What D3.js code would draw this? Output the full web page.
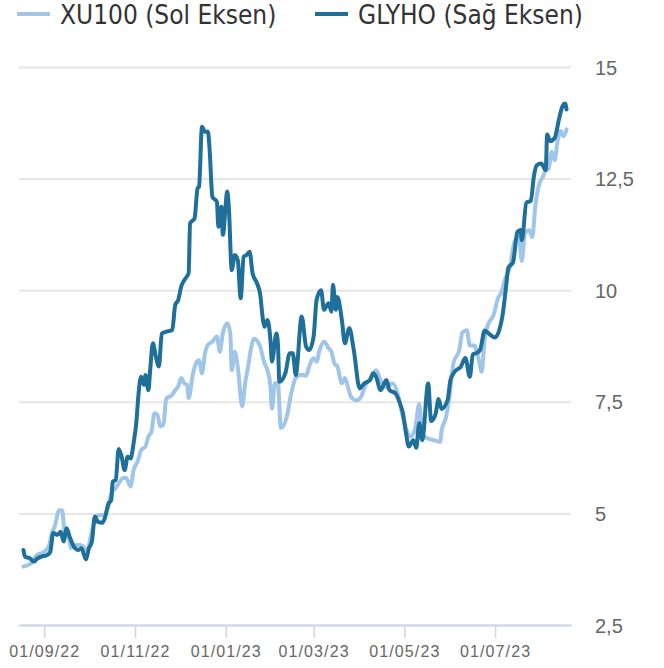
<!DOCTYPE html>
<html>
<head>
<meta charset="utf-8">
<script src="https://cdn.jsdelivr.net/npm/d3@7"></script>
<style>
  body { margin: 0; background: #fff; }
  svg { display: block; font-family: "DejaVu Sans Condensed", "DejaVu Sans", sans-serif; }
</style>
</head>
<body>
<div id="chart"></div>
<script>
const legendLabels = ["XU100 (Sol Eksen)", "GLYHO (Sağ Eksen)"];
const rightTicks = [2.5, 5, 7.5, 10, 12.5, 15];
const dateTicks = ["2022-09-01", "2022-11-01", "2023-01-01", "2023-03-01", "2023-05-01", "2023-07-01"];

// XU100, index points (left axis, hidden)
const xu100 = [
  ["2022-08-18", 2210], ["2022-08-23", 2250], ["2022-08-27", 2360], ["2022-08-31", 2390],
  ["2022-09-04", 2470], ["2022-09-06", 2640], ["2022-09-08", 2730], ["2022-09-11", 2940],
  ["2022-09-13", 2940], ["2022-09-15", 2600], ["2022-09-17", 2640], ["2022-09-19", 2450],
  ["2022-09-22", 2490], ["2022-09-25", 2490], ["2022-09-27", 2470], ["2022-09-30", 2420],
  ["2022-10-02", 2580], ["2022-10-05", 2810], ["2022-10-08", 2880], ["2022-10-11", 2880],
  ["2022-10-14", 2990], ["2022-10-16", 3160], ["2022-10-19", 3230], ["2022-10-21", 3290],
  ["2022-10-24", 3360], ["2022-10-26", 3360], ["2022-10-29", 3250], ["2022-10-31", 3460],
  ["2022-11-03", 3590], ["2022-11-05", 3720], ["2022-11-08", 3770], ["2022-11-10", 3900],
  ["2022-11-12", 3960], ["2022-11-14", 4200], ["2022-11-16", 4180], ["2022-11-18", 4030],
  ["2022-11-20", 4050], ["2022-11-22", 4390], ["2022-11-26", 4440], ["2022-11-28", 4500],
  ["2022-11-30", 4550], ["2022-12-02", 4660], ["2022-12-04", 4590], ["2022-12-06", 4570],
  ["2022-12-07", 4400], ["2022-12-10", 4720], ["2022-12-12", 4850], ["2022-12-14", 4890],
  ["2022-12-16", 4720], ["2022-12-18", 4980], ["2022-12-20", 5090], ["2022-12-23", 5130],
  ["2022-12-26", 5200], ["2022-12-28", 5000], ["2022-12-30", 5240], ["2023-01-02", 5370],
  ["2023-01-04", 5240], ["2023-01-05", 4760], ["2023-01-07", 5000], ["2023-01-09", 4810],
  ["2023-01-12", 4290], ["2023-01-14", 4590], ["2023-01-16", 4810], ["2023-01-18", 5050],
  ["2023-01-20", 5170], ["2023-01-24", 5070], ["2023-01-27", 4850], ["2023-01-29", 4760],
  ["2023-01-31", 4550], ["2023-02-01", 4260], ["2023-02-03", 4590], ["2023-02-05", 4590],
  ["2023-02-07", 4010], ["2023-02-11", 4160], ["2023-02-14", 4460], ["2023-02-17", 4660],
  ["2023-02-21", 4700], ["2023-02-24", 4690], ["2023-02-26", 4810], ["2023-03-01", 4920],
  ["2023-03-03", 4870], ["2023-03-05", 5020], ["2023-03-08", 5130], ["2023-03-11", 5050],
  ["2023-03-13", 5000], ["2023-03-15", 4850], ["2023-03-17", 4810], ["2023-03-20", 4590],
  ["2023-03-22", 4660], ["2023-03-24", 4550], ["2023-03-26", 4420], ["2023-03-30", 4370],
  ["2023-04-02", 4420], ["2023-04-05", 4570], ["2023-04-09", 4670], ["2023-04-12", 4760],
  ["2023-04-15", 4630], ["2023-04-19", 4540], ["2023-04-23", 4590], ["2023-04-27", 4420],
  ["2023-04-29", 4240], ["2023-05-02", 4010], ["2023-05-05", 3900], ["2023-05-08", 3980],
  ["2023-05-11", 4320], ["2023-05-13", 3920], ["2023-05-16", 3880], ["2023-05-21", 3850],
  ["2023-05-25", 3830], ["2023-05-26", 3970], ["2023-05-29", 4150], ["2023-05-31", 4370],
  ["2023-06-03", 4850], ["2023-06-07", 5030], ["2023-06-09", 5250], ["2023-06-12", 5280],
  ["2023-06-14", 5080], ["2023-06-17", 5080], ["2023-06-20", 4900], ["2023-06-22", 4740],
  ["2023-06-24", 5170], ["2023-06-26", 5340], ["2023-06-30", 5480], ["2023-07-03", 5700],
  ["2023-07-05", 5760], ["2023-07-08", 5960], ["2023-07-11", 6100], ["2023-07-14", 6430],
  ["2023-07-17", 6490], ["2023-07-19", 6180], ["2023-07-21", 6540], ["2023-07-24", 6580],
  ["2023-07-26", 6490], ["2023-07-28", 6890], ["2023-07-31", 7200], ["2023-08-02", 7270],
  ["2023-08-04", 7360], ["2023-08-06", 7380], ["2023-08-08", 7600], ["2023-08-10", 7490],
  ["2023-08-12", 7740], ["2023-08-14", 7870], ["2023-08-16", 7800], ["2023-08-18", 7890]
];

// GLYHO, TL (right axis)
const glyho = [
  ["2022-08-18", 4.18], ["2022-08-19", 4.03], ["2022-08-22", 4.00], ["2022-08-25", 3.92],
  ["2022-08-27", 3.98], ["2022-08-30", 4.03], ["2022-09-03", 4.07], ["2022-09-05", 4.14],
  ["2022-09-07", 4.56], ["2022-09-10", 4.52], ["2022-09-12", 4.59], ["2022-09-14", 4.37],
  ["2022-09-16", 4.67], ["2022-09-18", 4.48], ["2022-09-21", 4.25], ["2022-09-24", 4.18],
  ["2022-09-26", 4.22], ["2022-09-29", 3.97], ["2022-10-01", 4.22], ["2022-10-03", 4.37],
  ["2022-10-05", 4.93], ["2022-10-07", 4.81], ["2022-10-10", 4.79], ["2022-10-12", 4.93],
  ["2022-10-14", 5.21], ["2022-10-16", 5.30], ["2022-10-17", 5.71], ["2022-10-19", 5.75],
  ["2022-10-21", 6.44], ["2022-10-23", 6.27], ["2022-10-25", 5.97], ["2022-10-27", 6.27],
  ["2022-10-29", 6.23], ["2022-10-31", 6.57], ["2022-11-02", 7.09], ["2022-11-03", 7.54],
  ["2022-11-05", 8.06], ["2022-11-07", 7.88], ["2022-11-08", 8.10], ["2022-11-10", 7.76],
  ["2022-11-11", 8.14], ["2022-11-13", 8.81], ["2022-11-15", 8.51], ["2022-11-17", 8.29],
  ["2022-11-19", 9.03], ["2022-11-22", 9.07], ["2022-11-26", 9.11], ["2022-11-28", 9.67],
  ["2022-11-30", 9.78], ["2022-12-02", 10.08], ["2022-12-05", 10.27], ["2022-12-07", 10.38],
  ["2022-12-08", 11.50], ["2022-12-11", 11.61], ["2022-12-13", 12.28], ["2022-12-14", 12.32],
  ["2022-12-16", 13.66], ["2022-12-18", 13.55], ["2022-12-20", 13.55], ["2022-12-21", 13.21],
  ["2022-12-23", 12.09], ["2022-12-26", 11.98], ["2022-12-27", 11.42], ["2022-12-29", 11.87],
  ["2022-12-30", 11.24], ["2023-01-02", 12.21], ["2023-01-03", 11.87], ["2023-01-05", 10.45],
  ["2023-01-07", 10.79], ["2023-01-09", 10.68], ["2023-01-11", 9.82], ["2023-01-13", 10.75],
  ["2023-01-15", 10.79], ["2023-01-17", 10.86], ["2023-01-19", 10.38], ["2023-01-22", 10.15],
  ["2023-01-24", 9.93], ["2023-01-26", 9.33], ["2023-01-27", 9.18], ["2023-01-29", 9.33],
  ["2023-01-31", 8.88], ["2023-02-01", 8.40], ["2023-02-04", 9.03], ["2023-02-05", 8.81],
  ["2023-02-06", 7.95], ["2023-02-10", 8.14], ["2023-02-13", 8.59], ["2023-02-15", 8.59],
  ["2023-02-17", 8.10], ["2023-02-21", 9.41], ["2023-02-24", 8.73], ["2023-02-26", 8.66],
  ["2023-03-01", 8.96], ["2023-03-03", 9.78], ["2023-03-06", 10.00], ["2023-03-08", 9.56],
  ["2023-03-11", 9.71], ["2023-03-13", 9.52], ["2023-03-14", 10.12], ["2023-03-16", 9.56],
  ["2023-03-17", 9.85], ["2023-03-20", 9.33], ["2023-03-22", 8.81], ["2023-03-25", 9.15],
  ["2023-03-28", 8.66], ["2023-04-01", 7.80], ["2023-04-04", 7.91], ["2023-04-08", 7.99],
  ["2023-04-10", 8.14], ["2023-04-12", 8.06], ["2023-04-15", 7.76], ["2023-04-19", 7.99],
  ["2023-04-21", 7.76], ["2023-04-25", 7.69], ["2023-04-28", 7.47], ["2023-04-30", 7.25],
  ["2023-05-02", 6.82], ["2023-05-04", 6.50], ["2023-05-07", 6.64], ["2023-05-09", 6.47],
  ["2023-05-11", 7.02], ["2023-05-13", 6.64], ["2023-05-17", 7.91], ["2023-05-19", 7.07],
  ["2023-05-22", 7.23], ["2023-05-24", 7.56], ["2023-05-26", 7.34], ["2023-05-30", 7.53],
  ["2023-06-01", 7.99], ["2023-06-04", 8.18], ["2023-06-08", 8.29], ["2023-06-11", 8.48],
  ["2023-06-14", 8.06], ["2023-06-16", 8.56], ["2023-06-19", 8.60], ["2023-06-21", 8.67],
  ["2023-06-24", 9.10], ["2023-06-27", 9.02], ["2023-07-01", 8.94], ["2023-07-04", 9.13],
  ["2023-07-06", 9.44], ["2023-07-08", 9.97], ["2023-07-10", 10.51], ["2023-07-13", 10.62],
  ["2023-07-16", 11.31], ["2023-07-18", 11.35], ["2023-07-19", 11.12], ["2023-07-22", 11.96],
  ["2023-07-25", 12.00], ["2023-07-27", 12.54], ["2023-07-29", 12.80], ["2023-08-01", 12.84],
  ["2023-08-04", 12.69], ["2023-08-05", 13.49], ["2023-08-07", 13.34], ["2023-08-10", 13.41],
  ["2023-08-13", 13.84], ["2023-08-15", 14.10], ["2023-08-17", 14.18], ["2023-08-18", 14.05]
];

const margin = { top: 67, right: 93, bottom: 43, left: 19 },
  width = 664 - margin.left - margin.right,
  height = 668 - margin.top - margin.bottom,
  colorA = "#9fc5e8",
  colorB = "#1e6f99";

const parse = d3.timeParse("%Y-%m-%d");

const svg = d3
  .select("#chart")
  .append("svg")
  .attr("width", 664)
  .attr("height", 668);

const g = svg
  .append("g")
  .attr("transform", "translate(" + margin.left + "," + margin.top + ")");

const x = d3
  .scaleTime()
  .domain([new Date(2022, 7, 15), new Date(2023, 7, 21)])
  .range([0, width]);

const yRight = d3.scaleLinear().domain([2.5, 15]).range([height, 0]);
// left axis is not drawn in the original, only its series
const yLeft = d3.scaleLinear().domain([1450, 8700]).range([height, 0]);

// grid + right axis labels
const yAxis = d3
  .axisRight(yRight)
  .tickValues(rightTicks)
  .tickSize(-width)
  .tickFormat(d => String(d).replace(".", ","));

const yg = g
  .append("g")
  .attr("transform", "translate(" + width + ",0)")
  .call(yAxis);
yg.select(".domain").remove();
yg.selectAll(".tick line").style("stroke", "#e6e6e6").style("stroke-width", 2);
yg.selectAll(".tick text")
  .attr("x", 24)
  .attr("dy", "0.35em")
  .style("font-size", "20px")
  .style("fill", "#666666")
  .style("text-anchor", "start");

// bottom axis
const xAxis = d3
  .axisBottom(x)
  .tickValues(dateTicks.map(parse))
  .tickSize(13)
  .tickSizeOuter(0)
  .tickFormat(d3.timeFormat("%d/%m/%y"));

const xg = g
  .append("g")
  .attr("transform", "translate(0," + height + ")")
  .call(xAxis);
xg.select(".domain").style("stroke", "#ccd6eb").style("stroke-width", 2);
xg.selectAll(".tick line").style("stroke", "#ccd6eb").style("stroke-width", 1.5);
xg.selectAll(".tick text")
  .attr("y", 21)
  .style("font-size", "16px")
  .style("letter-spacing", "1.1px")
  .style("fill", "#666666");

// lines
const lineA = d3
  .line()
  .curve(d3.curveMonotoneX)
  .x(d => x(parse(d[0])))
  .y(d => yLeft(d[1]));

const lineB = d3
  .line()
  .curve(d3.curveMonotoneX)
  .x(d => x(parse(d[0])))
  .y(d => yRight(d[1]));

g.append("path")
  .datum(xu100)
  .attr("fill", "none")
  .attr("stroke", colorA)
  .attr("stroke-width", 4)
  .attr("stroke-linejoin", "round")
  .attr("stroke-linecap", "round")
  .attr("d", lineA);

g.append("path")
  .datum(glyho)
  .attr("fill", "none")
  .attr("stroke", colorB)
  .attr("stroke-width", 4)
  .attr("stroke-linejoin", "round")
  .attr("stroke-linecap", "round")
  .attr("d", lineB);

// legend
const legend = svg.append("g");
const legendX = [17, 315];
[colorA, colorB].forEach((c, i) => {
  legend
    .append("line")
    .attr("x1", legendX[i])
    .attr("x2", legendX[i] + 33)
    .attr("y1", 14)
    .attr("y2", 14)
    .attr("stroke", c)
    .attr("stroke-width", 4);
  legend
    .append("text")
    .attr("x", legendX[i] + 43)
    .attr("y", 24)
    .style("font-size", "26px")
    .style("fill", "#333333")
    .text(legendLabels[i]);
});
</script>
</body>
</html>
